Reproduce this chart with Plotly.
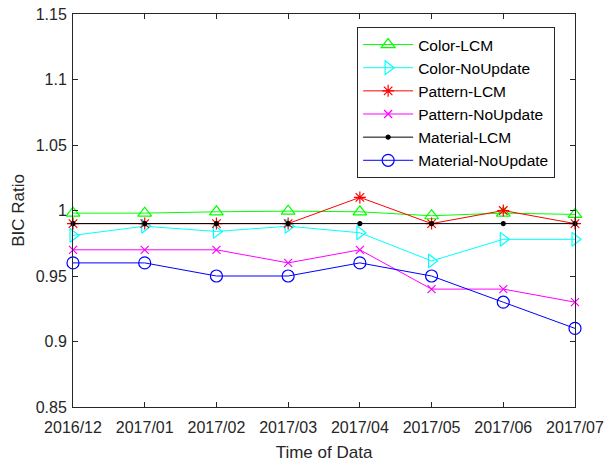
import plotly.graph_objects as go

months = ["2016/12", "2017/01", "2017/02", "2017/03", "2017/04", "2017/05", "2017/06", "2017/07"]
color_lcm = [0.998, 0.998, 0.999, 0.9995, 0.999, 0.996, 0.998, 0.997]
color_noupdate = [0.981, 0.988, 0.984, 0.988, 0.983, 0.9615, 0.978, 0.978]
pattern_lcm = [0.99, 0.99, 0.99, 0.99, 1.01, 0.99, 1.0, 0.99]
pattern_noupdate = [0.97, 0.97, 0.97, 0.96, 0.97, 0.94, 0.94, 0.93]
material_lcm = [0.99, 0.99, 0.99, 0.99, 0.99, 0.99, 0.99, 0.99]
material_noupdate = [0.96, 0.96, 0.95, 0.95, 0.96, 0.95, 0.93, 0.91]
yticks = [0.85, 0.9, 0.95, 1.0, 1.05, 1.1, 1.15]
ytick_text = ["0.85", "0.9", "0.95", "1", "1.05", "1.1", "1.15"]

x = list(range(len(months)))
series = [
    ("Color-LCM", color_lcm, "#00ff00", "triangle-up-open", 12),
    ("Color-NoUpdate", color_noupdate, "#00ffff", "triangle-right-open", 12),
    ("Pattern-LCM", pattern_lcm, "#ff0000", "asterisk-open", 10),
    ("Pattern-NoUpdate", pattern_noupdate, "#ff00ff", "x-thin-open", 8),
    ("Material-LCM", material_lcm, "#000000", "circle", 4),
    ("Material-NoUpdate", material_noupdate, "#0000ff", "circle-open", 12),
]

FONT = "Liberation Sans, Arial, sans-serif"

fig = go.Figure()
for name, ys, col, sym, sz in series:
    fig.add_trace(go.Scatter(
        x=x, y=ys, name=name, mode="lines+markers",
        line=dict(color=col, width=1),
        marker=dict(symbol=sym, size=sz, color=col, line=dict(color=col, width=1.2)),
        cliponaxis=False,
    ))

axis_common = dict(
    showgrid=False, zeroline=False, showline=True, linecolor="#262626", linewidth=1,
    mirror="ticks", ticks="inside", ticklen=5, tickcolor="#262626", automargin=False,
    tickfont=dict(family=FONT, size=16, color="#262626"),
)

fig.update_layout(
    width=607, height=466,
    margin=dict(l=73, r=32, t=14, b=59),
    paper_bgcolor="white", plot_bgcolor="white",
    font=dict(family=FONT, size=16, color="#262626"),
    xaxis=dict(range=[0, 7], tickvals=x, ticktext=months, ticklabelstandoff=6,
               title=dict(text="Time of Data", font=dict(size=17), standoff=10), **axis_common),
    yaxis=dict(range=[0.85, 1.15], tickvals=yticks, ticktext=ytick_text, ticklabelstandoff=2,
               title=dict(text="BIC Ratio", font=dict(size=17), standoff=6), **axis_common),
    legend=dict(x=0.566, y=0.967, xanchor="left", yanchor="top", itemwidth=50,
                bgcolor="white", bordercolor="#262626", borderwidth=1,
                font=dict(family=FONT, size=15.5, color="#000000"), tracegroupgap=0),
    showlegend=True,
)

fig.write_html("out.html", config={"displayModeBar": False},
               post_script="document.body.style.margin='0';document.body.style.padding='0';")
